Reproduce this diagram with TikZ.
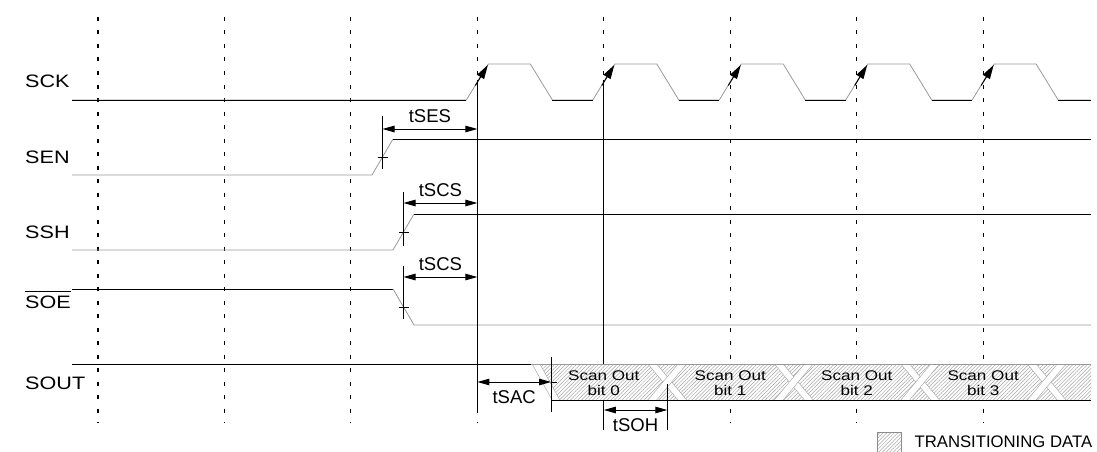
\documentclass[tikz,border=0pt]{standalone}
\usepackage{fontspec}
\setmainfont{Liberation Sans}
\newfontfamily\signame[FakeStretch=1.2]{Liberation Sans}
\newfontfamily\bitname[FakeStretch=1.22]{Liberation Sans}
\usetikzlibrary{arrows.meta, patterns.meta, positioning}
\newcommand{\barsig}[1]{\setbox0=\hbox{#1}\rlap{\rule[\dimexpr\ht0+3.5pt\relax]{\wd0}{1.6pt}}\box0}

\tikzset{
  gridline/.style={line width=1.1pt, dash pattern=on 4pt off 9.5pt},
  wave/.style={line width=0.8pt, black!40},
  level/.style={line width=1pt, black},
  guide/.style={line width=1pt, black},
  dim/.style={line width=1pt, {Triangle[length=12pt,width=6.5pt]}-{Triangle[length=12pt,width=6.5pt]}},
  edgetip/.style={line width=1pt, -{Triangle[length=14pt,width=8pt]}},
  sig/.style={anchor=base west, inner sep=0pt, font=\signame\fontsize{18}{20}\selectfont},
  tlabel/.style={inner sep=0pt, font=\fontsize{18.5}{20}\selectfont},
  busfill/.style={pattern={Lines[angle=45, distance=2.6pt, line width=0.5pt]}, pattern color=black!35},
  crossing/.style={draw=black!35, line width=0.6pt, double=white, double distance=6pt},
  bitbox/.style={align=center, inner sep=0pt, font=\bitname\fontsize{14}{15}\selectfont}
}

\begin{document}
\begin{tikzpicture}[x=1pt, y=-1pt]
  \useasboundingbox (0,0) rectangle (1097,452);
  \foreach \i in {0,...,7}
    \draw[gridline] (98+126.45*\i,17) -- (98+126.45*\i,423);

  \node[sig] (sck) at (25,88) {SCK};
  \node[sig] (sen) at (25,163) {SEN};
  \node[sig] (ssh) at (25,238.5) {SSH};
  \node[sig] (soe) at (25,308.5) {\barsig{SOE}};
  \node[sig] (sout) at (25,389) {SOUT};

  % clock
  \draw[wave] (72,100) \foreach \d in {477.35,603.8,730.25,856.7,983.15} { -- (\d-11,100) -- (\d+11,64) -- (\d+53,64) -- (\d+75,100) } -- (1091,100);
  \draw[level] (72,100) -- (466.35,100);
  \foreach \d in {477.35,603.8,730.25,856.7}
    \draw[level] (\d+75,100) -- (\d+115.45,100);
  \draw[level] (1058.15,100) -- (1091,100);
  \foreach \d in {477.35,603.8,730.25,856.7,983.15}
    \draw[edgetip] (\d-2,85.5) -- (\d+10.5,65);

  % enables
  \draw[wave] (72,175) -- (372,175) -- (393,139);
  \draw[level] (393,139) -- (1091,139);
  \draw[wave] (72,250) -- (393,250) -- (414,214);
  \draw[level] (414,214) -- (1091,214);
  \draw[level] (72,289) -- (393,289);
  \draw[wave] (393,289) -- (414,325) -- (1091,325);

  \coordinate (clk0) at (477.35,80);
  \coordinate (clk1) at (603.8,80);
  \coordinate (sac-end) at (477.35,412);
  \coordinate (soh-end) at (603.8,430);
  \draw[guide] (clk0) -- (sac-end);
  \draw[guide] (clk1) -- (soh-end);

  % serial out
  \draw[level] (72,364) -- (531,364);
  \fill[white] (536,364) -- (1091,364) -- (1091,400) -- (556,400) -- cycle;
  \fill[busfill] (536,364) -- (1091,364) -- (1091,400) -- (556,400) -- cycle;
  \begin{scope}
    \clip (520,364) rectangle (1091,400);
    \draw[crossing] (533.8,360) -- (558.2,404);
    \foreach \d in {603.8,730.25,856.7,983.15} {
      \draw[crossing] (\d+45.2,360) -- (\d+81.8,404);
      \draw[crossing] (\d+45.2,404) -- (\d+81.8,360);
    }
  \end{scope}
  \draw[wave] (531,364) -- (1091,364);
  \draw[level] (551,400) -- (1091,400);
  \foreach \d [count=\b from 0] in {603.8,730.25,856.7,983.15}
    \node[bitbox] (bit\b) at (\d,383.5) {Scan Out\\bit \b};

  % timing
  \coordinate (sen-edge) at (382.5,157);
  \draw[guide] (sen-edge) ++(0,-41) -- ++(0,53);
  \draw[guide] (sen-edge) ++(-5,0) -- ++(10,0);
  \coordinate (ses-a) at (382.5,129);
  \coordinate (ses-b) at (477.35,129);
  \draw[dim] (ses-a) -- node[tlabel, above=6pt] (tses) {tSES} (ses-b);

  \coordinate (ssh-edge) at (403.5,232);
  \draw[guide] (ssh-edge) ++(0,-40) -- ++(0,54);
  \draw[guide] (ssh-edge) ++(-5,0) -- ++(10,0);
  \coordinate (scs1-a) at (403.5,203);
  \coordinate (scs1-b) at (477.35,203);
  \draw[dim] (scs1-a) -- node[tlabel, above=6pt] (tscs1) {tSCS} (scs1-b);

  \coordinate (soe-edge) at (403.5,307);
  \draw[guide] (soe-edge) ++(0,-41) -- ++(0,53);
  \draw[guide] (soe-edge) ++(-5,0) -- ++(10,0);
  \coordinate (scs2-a) at (403.5,277);
  \coordinate (scs2-b) at (477.35,277);
  \draw[dim] (scs2-a) -- node[tlabel, above=6pt] (tscs2) {tSCS} (scs2-b);

  \coordinate (sac-a) at (477.35,382);
  \coordinate (sac-b) at (551,382);
  \draw[guide] (551,357) -- (551,412);
  \draw[guide] (sac-b) -- ++(6,0);
  \draw[dim] (sac-a) -- node[tlabel, below=8pt] (tsac) {tSAC} (sac-b);

  \coordinate (soh-a) at (603.8,410);
  \coordinate (soh-b) at (667.3,410);
  \draw[guide] (667.3,384) -- (667.3,430);
  \draw[dim] (soh-a) -- node[tlabel, below=8pt] (tsoh) {tSOH} (soh-b);

  \node[draw=black!45, busfill, minimum width=24pt, minimum height=20pt, inner sep=0pt, line width=0.8pt] (legbox) at (889,442) {};
  \node[tlabel, font=\fontsize{16.7}{18}\selectfont, right=13pt of legbox] (legtext) {TRANSITIONING DATA};
\end{tikzpicture}
\end{document}
